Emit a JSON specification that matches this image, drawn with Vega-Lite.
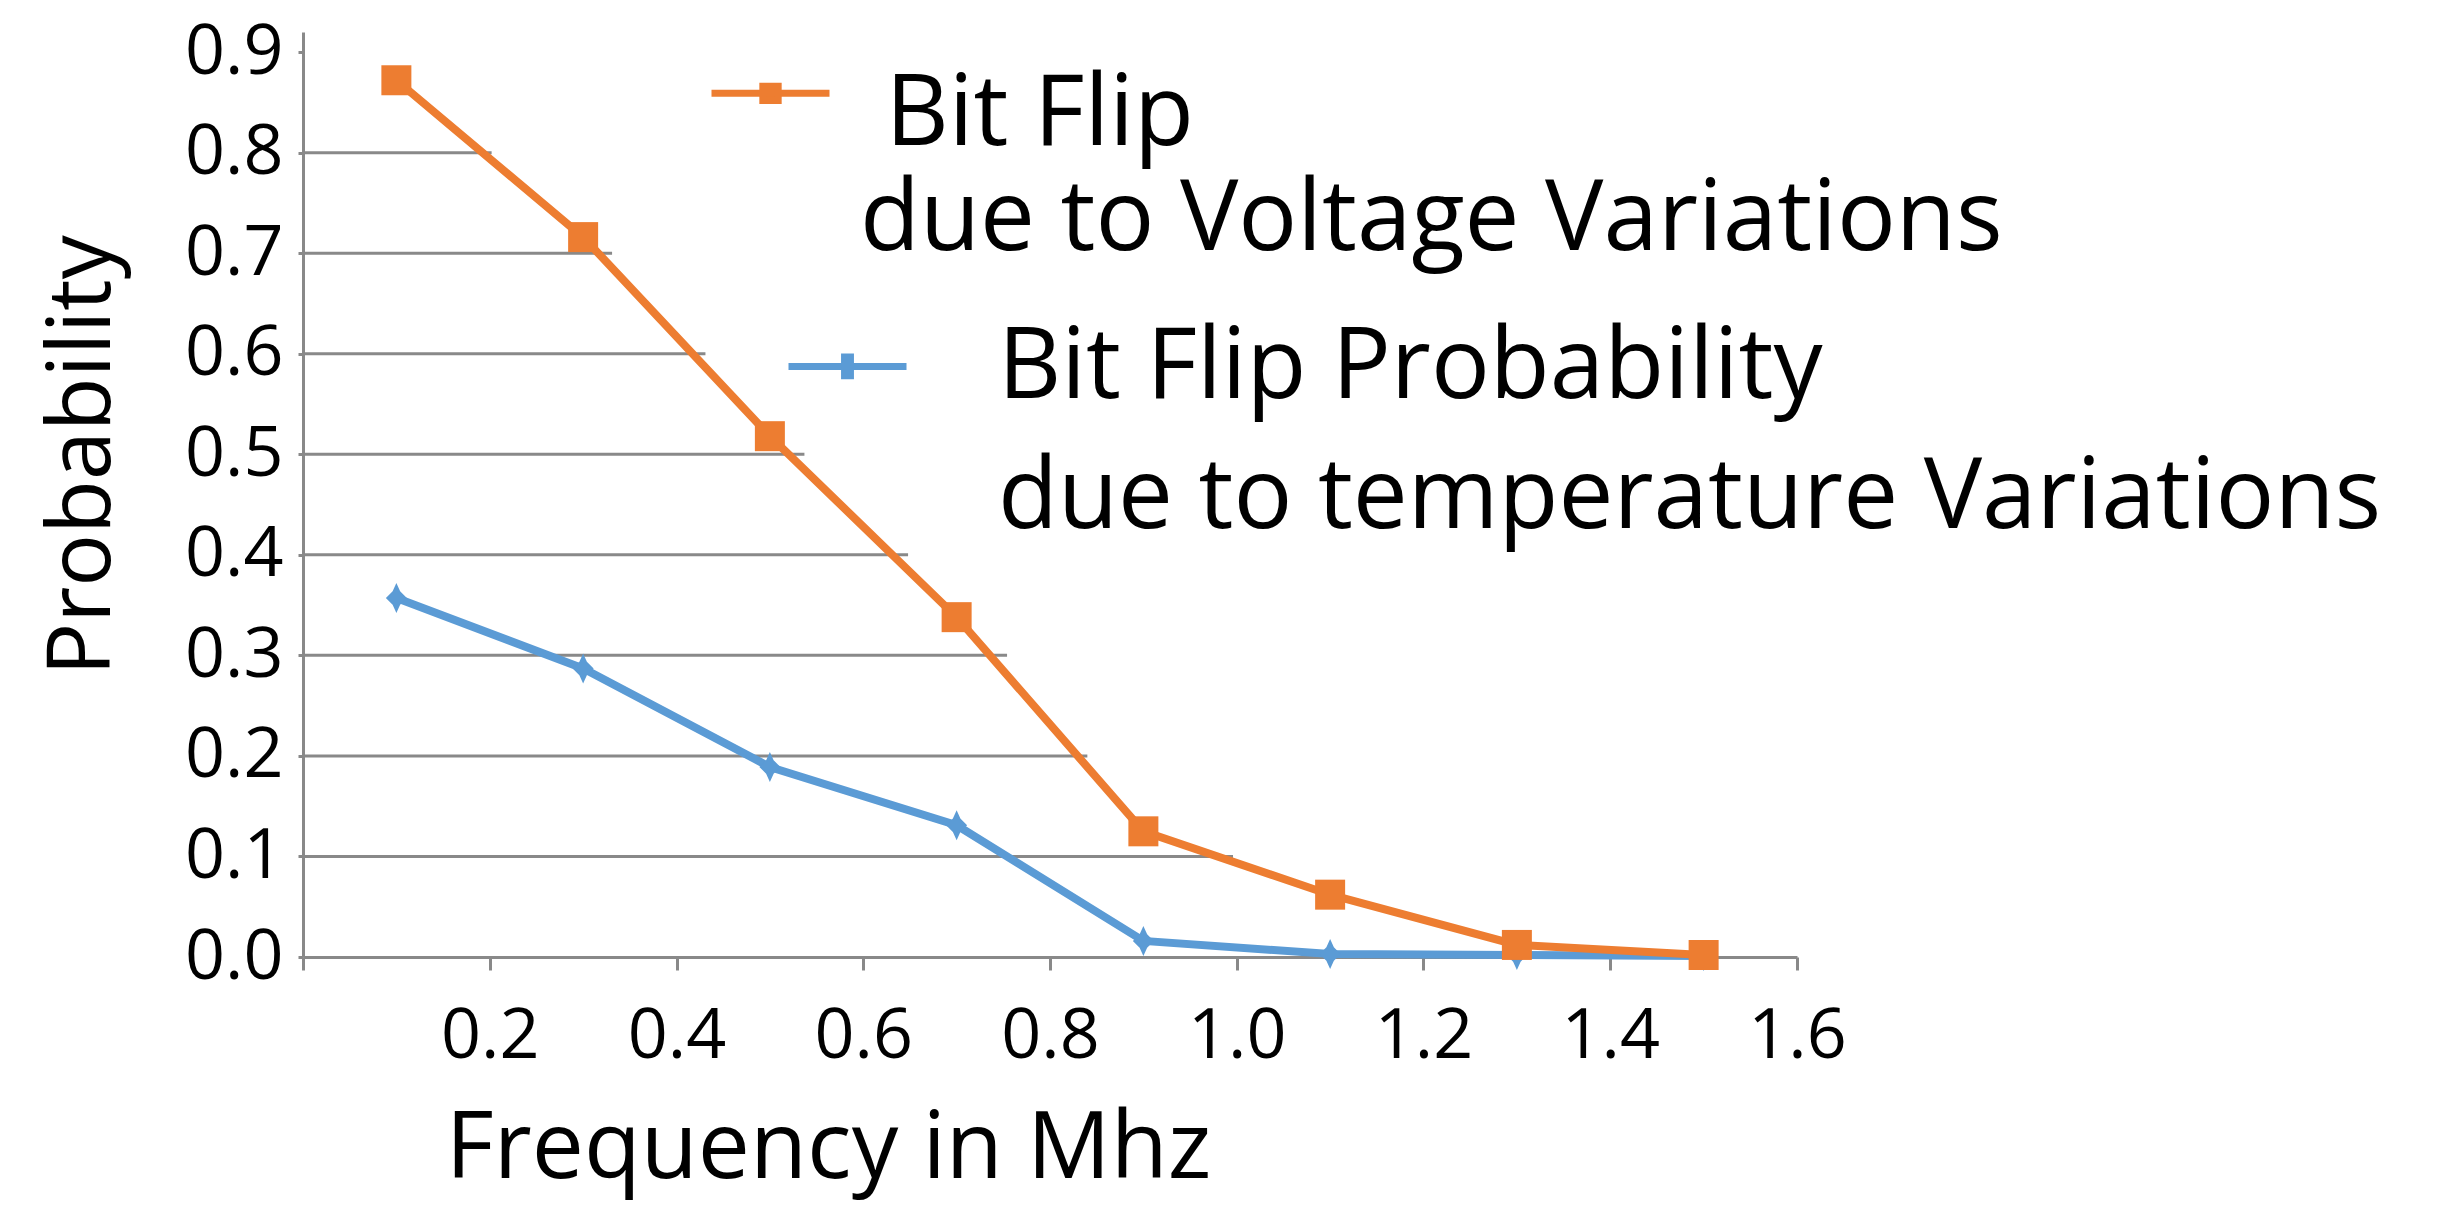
{
  "$schema": "https://vega.github.io/schema/vega-lite/v6.json",
  "description": "Bit flip probability against frequency, for voltage and temperature variations.",
  "width": 1494,
  "height": 925,
  "autosize": {"type": "none"},
  "padding": {"left": 303, "top": 32, "right": 647, "bottom": 258},
  "background": "white",
  "datasets": {
    "points": [
      {"freq": 0.1, "prob": 0.872, "series": "voltage"},
      {"freq": 0.3, "prob": 0.716, "series": "voltage"},
      {"freq": 0.5, "prob": 0.518, "series": "voltage"},
      {"freq": 0.7, "prob": 0.338, "series": "voltage"},
      {"freq": 0.9, "prob": 0.125, "series": "voltage"},
      {"freq": 1.1, "prob": 0.062, "series": "voltage"},
      {"freq": 1.3, "prob": 0.012, "series": "voltage"},
      {"freq": 1.5, "prob": 0.002, "series": "voltage"},
      {"freq": 0.1, "prob": 0.357, "series": "temperature"},
      {"freq": 0.3, "prob": 0.287, "series": "temperature"},
      {"freq": 0.5, "prob": 0.189, "series": "temperature"},
      {"freq": 0.7, "prob": 0.131, "series": "temperature"},
      {"freq": 0.9, "prob": 0.016, "series": "temperature"},
      {"freq": 1.1, "prob": 0.003, "series": "temperature"},
      {"freq": 1.3, "prob": 0.002, "series": "temperature"},
      {"freq": 1.5, "prob": 0.001, "series": "temperature"}
    ],
    "grid": [
      {"level": 0.8, "end": 0.202},
      {"level": 0.7, "end": 0.331},
      {"level": 0.6, "end": 0.431},
      {"level": 0.5, "end": 0.537},
      {"level": 0.4, "end": 0.648},
      {"level": 0.3, "end": 0.754},
      {"level": 0.2, "end": 0.84},
      {"level": 0.1, "end": 0.996}
    ]
  },
  "layer": [
    {
      "data": {"name": "grid"},
      "mark": {"type": "rule", "stroke": "#898989", "strokeWidth": 3},
      "encoding": {
        "x": {
          "field": "end",
          "type": "quantitative",
          "title": "Frequency in Mhz",
          "scale": {"domain": [0, 1.6], "nice": false},
          "axis": {
            "values": [0, 0.2, 0.4, 0.6, 0.8, 1.0, 1.2, 1.4, 1.6],
            "labelExpr": "datum.value == 0 ? '' : format(datum.value, '.1f')",
            "grid": false,
            "domainColor": "#898989",
            "domainWidth": 3,
            "tickColor": "#898989",
            "tickWidth": 3,
            "tickSize": 13,
            "labelFont": "Open Sans",
            "labelFontSize": 70,
            "labelColor": "black",
            "labelPadding": 32,
            "labelFlush": false,
            "labelOverlap": false,
            "titleFont": "Open Sans",
            "titleFontSize": 93,
            "titleFontWeight": "normal",
            "titleColor": "black",
            "titleX": 525,
            "titleY": 220,
            "titleAlign": "center",
            "titleBaseline": "alphabetic"
          }
        },
        "x2": {"datum": 0},
        "y": {
          "field": "level",
          "type": "quantitative",
          "title": "Probability",
          "scale": {"domain": [0, 0.92], "nice": false},
          "axis": {
            "values": [0, 0.1, 0.2, 0.3, 0.4, 0.5, 0.6, 0.7, 0.8, 0.9],
            "format": ".1f",
            "grid": false,
            "domainColor": "#898989",
            "domainWidth": 3,
            "tickColor": "#898989",
            "tickWidth": 3,
            "tickSize": 5,
            "labelFont": "Open Sans",
            "labelFontSize": 70,
            "labelColor": "black",
            "labelPadding": 15,
            "labelBaseline": "middle",
            "labelFlush": false,
            "labelOverlap": false,
            "titleFont": "Open Sans",
            "titleFontSize": 88,
            "titleFontWeight": "normal",
            "titleColor": "black",
            "titleAngle": -90,
            "titleX": -194,
            "titleY": 423,
            "titleAlign": "center",
            "titleBaseline": "alphabetic"
          }
        }
      }
    },
    {
      "data": {"name": "points"},
      "transform": [{"filter": "datum.series == 'temperature'"}],
      "mark": {
        "type": "line",
        "strokeWidth": 8,
        "point": {
          "shape": "M0,-1L0.25,-0.45L0.7,0L0.25,0.45L0,1L-0.25,0.45L-0.7,0L-0.25,-0.45Z",
          "size": 900,
          "filled": true,
          "opacity": 1
        }
      },
      "encoding": {
        "x": {"field": "freq", "type": "quantitative", "title": "Frequency in Mhz"},
        "y": {"field": "prob", "type": "quantitative", "title": "Probability"},
        "color": {
          "field": "series",
          "type": "nominal",
          "scale": {"domain": ["temperature"], "range": ["#5B9BD5"]},
          "legend": {
            "orient": "none",
            "legendX": 482,
            "legendY": 289,
            "padding": 0,
            "title": ["Bit Flip Probability", "due to temperature Variations"],
            "titleOrient": "right",
            "titleAnchor": "start",
            "titleBaseline": "top",
            "titleFont": "Open Sans",
            "titleFontSize": 98,
            "titleFontWeight": "normal",
            "titleColor": "black",
            "titleLineHeight": 130,
            "titlePadding": 77,
            "titleLimit": 3000,
            "labelExpr": "''",
            "labelOffset": 0,
            "symbolType": "M-1,-0.29H1M-0.05,-0.45H0.05V-0.13H-0.05Z",
            "symbolSize": 13924,
            "symbolStrokeWidth": 7,
            "symbolFillColor": "#5B9BD5",
            "symbolStrokeColor": "#5B9BD5"
          }
        }
      }
    },
    {
      "data": {"name": "points"},
      "transform": [{"filter": "datum.series == 'voltage'"}],
      "mark": {
        "type": "line",
        "strokeWidth": 8,
        "point": {"shape": "square", "size": 900, "filled": true, "opacity": 1}
      },
      "encoding": {
        "x": {"field": "freq", "type": "quantitative", "title": "Frequency in Mhz"},
        "y": {"field": "prob", "type": "quantitative", "title": "Probability"},
        "color": {
          "field": "series",
          "type": "nominal",
          "scale": {"domain": ["voltage"], "range": ["#ED7D31"]},
          "legend": {
            "orient": "none",
            "legendX": 405,
            "legendY": 36,
            "padding": 0,
            "title": ["\u200b\u00a0Bit Flip", "due to Voltage Variations"],
            "titleOrient": "right",
            "titleAnchor": "start",
            "titleBaseline": "top",
            "titleFont": "Open Sans",
            "titleFontSize": 98,
            "titleFontWeight": "normal",
            "titleColor": "black",
            "titleLineHeight": 105,
            "titlePadding": 16,
            "titleLimit": 3000,
            "labelExpr": "''",
            "labelOffset": 0,
            "symbolType": "M-1,-0.63H1M-0.13,-0.75H0.13V-0.51H-0.13Z",
            "symbolSize": 13924,
            "symbolStrokeWidth": 7,
            "symbolFillColor": "#ED7D31",
            "symbolStrokeColor": "#ED7D31"
          }
        }
      }
    }
  ],
  "resolve": {"scale": {"color": "independent"}},
  "config": {
    "font": "Open Sans",
    "view": {"stroke": null}
  }
}
